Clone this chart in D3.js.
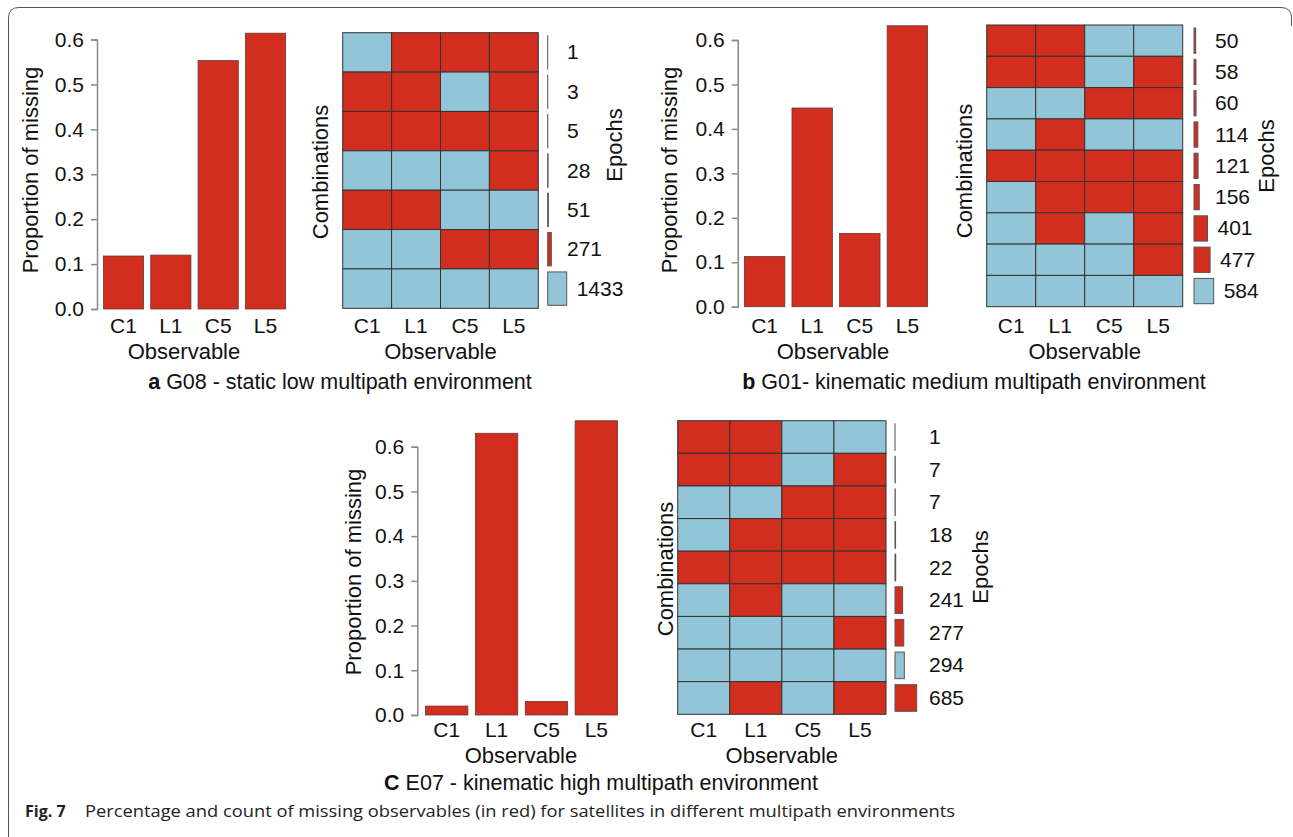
<!DOCTYPE html>
<html>
<head>
<meta charset="utf-8">
<script src="https://cdn.jsdelivr.net/npm/d3@7"></script>
<style>
  html, body { margin: 0; padding: 0; background: #fff; }
  svg { display: block; }
  svg text { font-family: "Liberation Sans", Arial, sans-serif; fill: #111; }
  svg text.figcap { font-family: "Open Sans", "Noto Sans", sans-serif; fill: #222; }
</style>
</head>
<body>
<svg id="chart" width="1293" height="837"></svg>
<script>
// ---------------- DATA ----------------
const observables = ["C1", "L1", "C5", "L5"];
const yTickValues = [0.0, 0.1, 0.2, 0.3, 0.4, 0.5, 0.6];

// proportion of missing per observable
const missingA = [0.118, 0.120, 0.553, 0.614];
const missingB = [0.113, 0.447, 0.165, 0.632];
const missingC = [0.020, 0.630, 0.030, 0.658];

// combinations (1 = missing / red, 0 = present / blue), top to bottom
const combosA = [[0,1,1,1],[1,1,0,1],[1,1,1,1],[0,0,0,1],[1,1,0,0],[0,0,1,1],[0,0,0,0]];
const epochsA = [1, 3, 5, 28, 51, 271, 1433];

const combosB = [[1,1,0,0],[1,1,0,1],[0,0,1,1],[0,1,0,0],[1,1,1,1],[0,1,1,1],[0,1,0,1],[0,0,0,1],[0,0,0,0]];
const epochsB = [50, 58, 60, 114, 121, 156, 401, 477, 584];

const combosC = [[1,1,0,0],[1,1,0,1],[0,0,1,1],[0,1,1,1],[1,1,1,1],[0,1,0,0],[0,0,0,1],[0,0,0,0],[0,1,0,1]];
const epochsC = [1, 7, 7, 18, 22, 241, 277, 294, 685];

const captionLetters = ["a", "b", "C"];
const captionTexts = [" G08 - static low multipath environment",
                      " G01- kinematic medium multipath environment",
                      " E07 - kinematic high multipath environment"];
const figLabel = "Fig. 7";
const figCaption = "Percentage and count of missing observables (in red) for satellites in different multipath environments";

// ---------------- STYLE ----------------
const RED = "#d22e1f";
const BLUE = "#92c5d8";
const FS = 21;     // tick / count labels
const FT = 22;     // axis titles
const FC = 21.5;   // panel captions

const svg = d3.select("#chart");

// frame
svg.append("path")
  .attr("d", "M8.5,845 V18 Q8.5,7.5 19,7.5 H1281 Q1291.5,7.5 1291.5,18 V26")
  .attr("fill", "none").attr("stroke", "#555").attr("stroke-width", 1);

function barChart(cfg, values) {
  const g = svg.append("g");
  const x = d3.scaleBand().domain(observables).range([cfg.x0, cfg.x1])
    .paddingInner(0.15).paddingOuter(0.05);
  const y = d3.scaleLinear().domain([0, 0.6]).range([cfg.yB, cfg.yT]);

  g.selectAll("rect.bar").data(values).join("rect")
    .attr("class", "bar")
    .attr("x", (d, i) => x(observables[i]))
    .attr("width", x.bandwidth())
    .attr("y", d => y(d))
    .attr("height", d => y(0) - y(d))
    .attr("fill", RED).attr("stroke", "#6a3a33").attr("stroke-width", 0.8);

  const ax = g.append("g").attr("transform", `translate(${cfg.axisX},0)`)
    .call(d3.axisLeft(y).tickValues(yTickValues).tickFormat(d3.format(".1f"))
      .tickSizeOuter(0).tickSize(6).tickPadding(7));
  ax.select(".domain").attr("stroke", "#8a8a8a").attr("stroke-width", 1.5);
  ax.selectAll(".tick line").attr("stroke", "#8a8a8a").attr("stroke-width", 1.5);
  ax.selectAll(".tick text").style("font-size", FS + "px");

  g.selectAll("text.xl").data(observables).join("text")
    .attr("class", "xl")
    .attr("x", d => x(d) + x.bandwidth() / 2)
    .attr("y", cfg.xLabelY)
    .attr("text-anchor", "middle").style("font-size", FS + "px").text(d => d);

  g.append("text").attr("x", cfg.obsX).attr("y", cfg.obsY)
    .attr("text-anchor", "middle").style("font-size", FT + "px").text("Observable");

  g.append("text")
    .attr("transform", `translate(${cfg.yTitleX},${cfg.yTitleY}) rotate(-90)`)
    .attr("text-anchor", "middle").style("font-size", FT + "px").text("Proportion of missing");
}

function heatmap(cfg, combos, epochs) {
  const g = svg.append("g");
  const x = d3.scaleBand().domain(observables).range([cfg.x0, cfg.x1]);
  const y = d3.scaleBand().domain(d3.range(combos.length)).range([cfg.y0, cfg.y1]);

  combos.forEach((row, i) => {
    g.selectAll(null).data(row).join("rect")
      .attr("x", (d, j) => x(observables[j]))
      .attr("y", y(i))
      .attr("width", x.bandwidth())
      .attr("height", y.bandwidth())
      .attr("fill", d => d ? RED : BLUE)
      .attr("stroke", "#333").attr("stroke-width", 1);
  });

  const w = d3.scaleLinear().domain([0, d3.max(epochs)]).range([0, cfg.barMax]);
  g.selectAll("rect.ep").data(epochs).join("rect")
    .attr("class", "ep")
    .attr("x", cfg.barX)
    .attr("y", (d, i) => y(i) + 3)
    .attr("width", d => w(d))
    .attr("height", y.bandwidth() - 6)
    .attr("fill", (d, i) => d3.sum(combos[i]) === 0 ? BLUE : RED)
    .attr("stroke", "#555").attr("stroke-width", 1);

  g.selectAll("text.ep").data(epochs).join("text")
    .attr("class", "ep")
    .attr("x", d => Math.max(cfg.labelX, cfg.barX + w(d) + 10))
    .attr("y", (d, i) => y(i) + y.bandwidth() / 2 + 7)
    .style("font-size", FS + "px").text(d => d);

  g.selectAll("text.xl").data(observables).join("text")
    .attr("class", "xl")
    .attr("x", d => x(d) + x.bandwidth() / 2)
    .attr("y", cfg.xLabelY)
    .attr("text-anchor", "middle").style("font-size", FS + "px").text(d => d);

  g.append("text").attr("x", (cfg.x0 + cfg.x1) / 2).attr("y", cfg.obsY)
    .attr("text-anchor", "middle").style("font-size", FT + "px").text("Observable");

  g.append("text")
    .attr("transform", `translate(${cfg.combX},${cfg.combY}) rotate(-90)`)
    .attr("text-anchor", "middle").style("font-size", FT + "px").text("Combinations");

  g.append("text")
    .attr("transform", `translate(${cfg.epX},${cfg.epY}) rotate(-90)`)
    .attr("text-anchor", "middle").style("font-size", FT + "px").text("Epochs");
}

function caption(cx, cy, i) {
  const t = svg.append("text").attr("x", cx).attr("y", cy)
    .attr("text-anchor", "middle").style("font-size", FC + "px");
  t.append("tspan").attr("font-weight", "bold").text(captionLetters[i]);
  t.append("tspan").text(captionTexts[i]);
}

// ---------------- PANELS ----------------
barChart({x0: 101, x1: 288, yB: 309, yT: 39.5, axisX: 97, xLabelY: 333, obsX: 184, obsY: 359, yTitleX: 38, yTitleY: 170}, missingA);
heatmap({x0: 342.7, x1: 538.3, y0: 32.7, y1: 308.3, barX: 547.7, barMax: 19, labelX: 567,
         xLabelY: 333, obsY: 359, combX: 328, combY: 172, epX: 622, epY: 145}, combosA, epochsA);

barChart({x0: 742, x1: 930, yB: 306.7, yT: 40, axisX: 737.7, xLabelY: 333, obsX: 833, obsY: 359, yTitleX: 677, yTitleY: 170}, missingB);
heatmap({x0: 986.7, x1: 1182.7, y0: 25, y1: 306.7, barX: 1194, barMax: 19.7, labelX: 1215,
         xLabelY: 333, obsY: 359, combX: 972, combY: 171, epX: 1274, epY: 156}, combosB, epochsB);

barChart({x0: 423, x1: 620, yB: 715, yT: 446.7, axisX: 417.3, xLabelY: 737, obsX: 521, obsY: 763, yTitleX: 361, yTitleY: 572}, missingC);
heatmap({x0: 677.7, x1: 886, y0: 420.7, y1: 714.3, barX: 895, barMax: 21.7, labelX: 929,
         xLabelY: 737, obsY: 763, combX: 673, combY: 569, epX: 988, epY: 567}, combosC, epochsC);

caption(340, 389, 0);
caption(974, 389, 1);
caption(601, 790, 2);

// figure caption
svg.append("text").attr("class", "figcap").attr("x", 25).attr("y", 817)
  .style("font-size", "16px").style("font-weight", "bold").text(figLabel);
svg.append("text").attr("class", "figcap").attr("x", 85).attr("y", 817)
  .style("font-size", "16px")
  .attr("textLength", 870).attr("lengthAdjust", "spacingAndGlyphs")
  .text(figCaption);
</script>
</body>
</html>
